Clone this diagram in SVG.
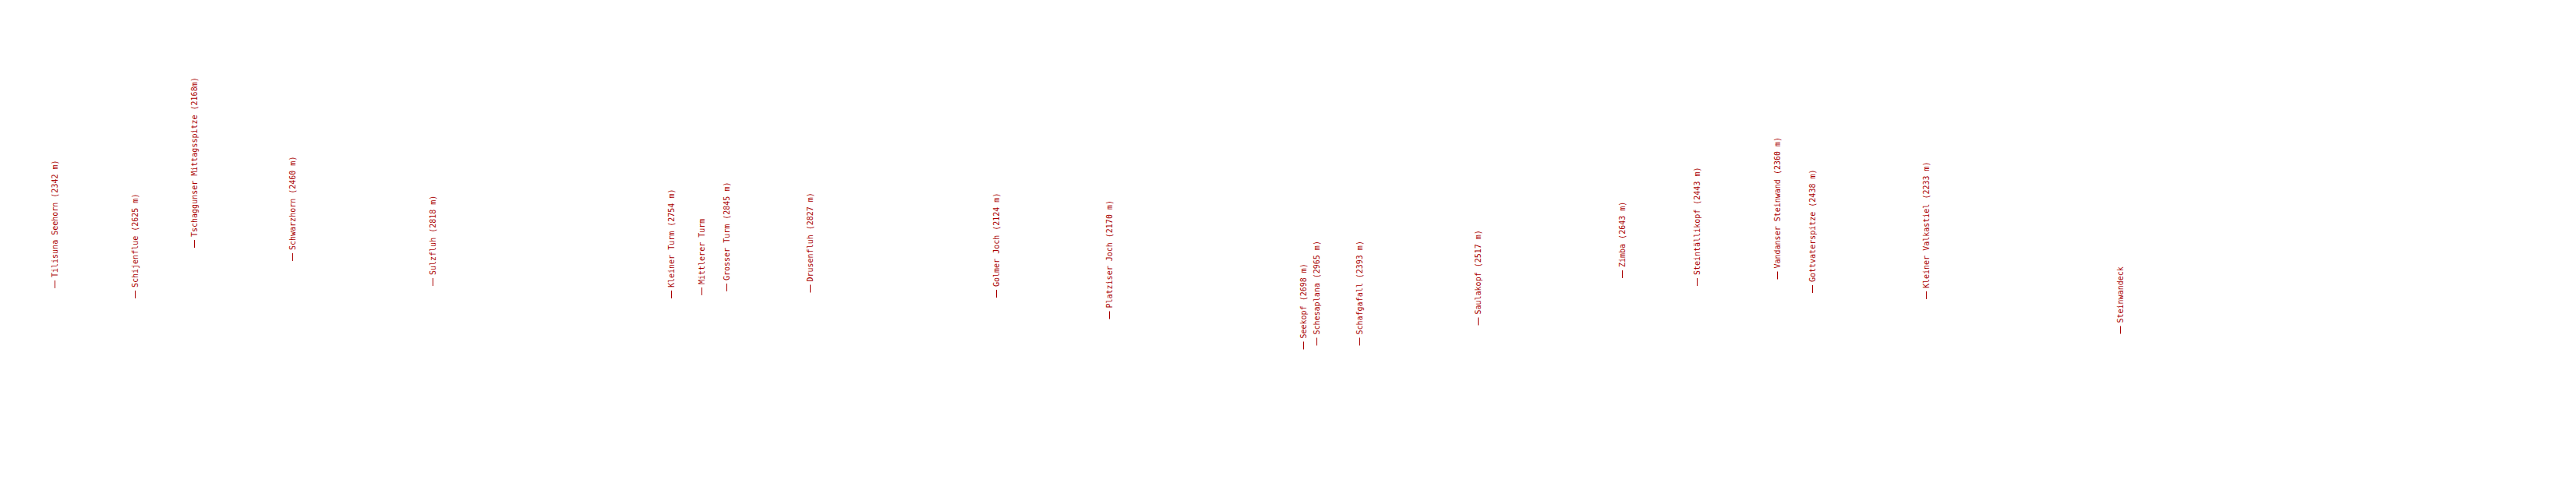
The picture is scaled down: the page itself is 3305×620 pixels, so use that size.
<svg xmlns="http://www.w3.org/2000/svg" width="3305" height="620" viewBox="0 0 3305 620">
<style>
.lbl{font-family:"DejaVu Sans Mono","Liberation Mono",monospace;font-size:10px;fill:#a00}
.tick{stroke:#a00;stroke-width:1;fill:none}
</style>
<rect width="3305" height="620" fill="#fff"/>
<g id="connectors">
<line class="tick" x1="70.5" y1="370" x2="70.5" y2="360"/>
<line class="tick" x1="173.5" y1="383" x2="173.5" y2="373"/>
<line class="tick" x1="249.5" y1="318" x2="249.5" y2="308"/>
<line class="tick" x1="375.5" y1="335" x2="375.5" y2="325"/>
<line class="tick" x1="555.5" y1="367" x2="555.5" y2="357"/>
<line class="tick" x1="861.5" y1="383" x2="861.5" y2="373"/>
<line class="tick" x1="900.5" y1="379" x2="900.5" y2="369"/>
<line class="tick" x1="932.5" y1="374" x2="932.5" y2="364"/>
<line class="tick" x1="1039.5" y1="375.5" x2="1039.5" y2="365.5"/>
<line class="tick" x1="1278.5" y1="382" x2="1278.5" y2="372"/>
<line class="tick" x1="1423.5" y1="409.5" x2="1423.5" y2="399.5"/>
<line class="tick" x1="1672.5" y1="448.5" x2="1672.5" y2="438.5"/>
<line class="tick" x1="1689.5" y1="443.5" x2="1689.5" y2="433.5"/>
<line class="tick" x1="1744.5" y1="443.5" x2="1744.5" y2="433.5"/>
<line class="tick" x1="1896.5" y1="417.5" x2="1896.5" y2="407.5"/>
<line class="tick" x1="2081.5" y1="357" x2="2081.5" y2="347"/>
<line class="tick" x1="2177.5" y1="367" x2="2177.5" y2="357"/>
<line class="tick" x1="2280.5" y1="358.5" x2="2280.5" y2="348.5"/>
<line class="tick" x1="2325.5" y1="376" x2="2325.5" y2="366"/>
<line class="tick" x1="2471.5" y1="384" x2="2471.5" y2="374"/>
<line class="tick" x1="2720.5" y1="428.5" x2="2720.5" y2="418.5"/>
</g>
<g id="n1"><text class="lbl" transform="translate(74,356) rotate(-90)">Tilisuna Seehorn (2342 m)</text></g>
<g id="n2"><text class="lbl" transform="translate(177,369) rotate(-90)">Schijenflue (2625 m)</text></g>
<g id="n3"><text class="lbl" transform="translate(253,304) rotate(-90)">Tschaggunser Mittagsspitze (2168m)</text></g>
<g id="n4"><text class="lbl" transform="translate(379,321) rotate(-90)">Schwarzhorn (2460 m)</text></g>
<g id="n5"><text class="lbl" transform="translate(559,353) rotate(-90)">Sulzfluh (2818 m)</text></g>
<g id="n6"><text class="lbl" transform="translate(865,369) rotate(-90)">Kleiner Turm (2754 m)</text></g>
<g id="n7"><text class="lbl" transform="translate(904,365) rotate(-90)">Mittlerer Turm</text></g>
<g id="n8"><text class="lbl" transform="translate(936,360) rotate(-90)">Grosser Turm (2845 m)</text></g>
<g id="n9"><text class="lbl" transform="translate(1043,361.5) rotate(-90)">Drusenfluh (2827 m)</text></g>
<g id="n10"><text class="lbl" transform="translate(1282,368) rotate(-90)">Golmer Joch (2124 m)</text></g>
<g id="n11"><text class="lbl" transform="translate(1427,395.5) rotate(-90)">Platziser Joch (2170 m)</text></g>
<g id="n12"><text class="lbl" transform="translate(1676,434.5) rotate(-90)">Seekopf (2698 m)</text></g>
<g id="n13"><text class="lbl" transform="translate(1693,429.5) rotate(-90)">Schesaplana (2965 m)</text></g>
<g id="n14"><text class="lbl" transform="translate(1748,429.5) rotate(-90)">Schafgafall (2393 m)</text></g>
<g id="n15"><text class="lbl" transform="translate(1900,403.5) rotate(-90)">Saulakopf (2517 m)</text></g>
<g id="n16"><text class="lbl" transform="translate(2085,343) rotate(-90)">Zimba (2643 m)</text></g>
<g id="n17"><text class="lbl" transform="translate(2181,353) rotate(-90)">Steintällikopf (2443 m)</text></g>
<g id="n18"><text class="lbl" transform="translate(2284,344.5) rotate(-90)">Vandanser Steinwand (2360 m)</text></g>
<g id="n19"><text class="lbl" transform="translate(2329,362) rotate(-90)">Gottvaterspitze (2438 m)</text></g>
<g id="n20"><text class="lbl" transform="translate(2475,370) rotate(-90)">Kleiner Valkastiel (2233 m)</text></g>
<g id="n21"><text class="lbl" transform="translate(2724,414.5) rotate(-90)">Steinwandeck</text></g>
</svg>
